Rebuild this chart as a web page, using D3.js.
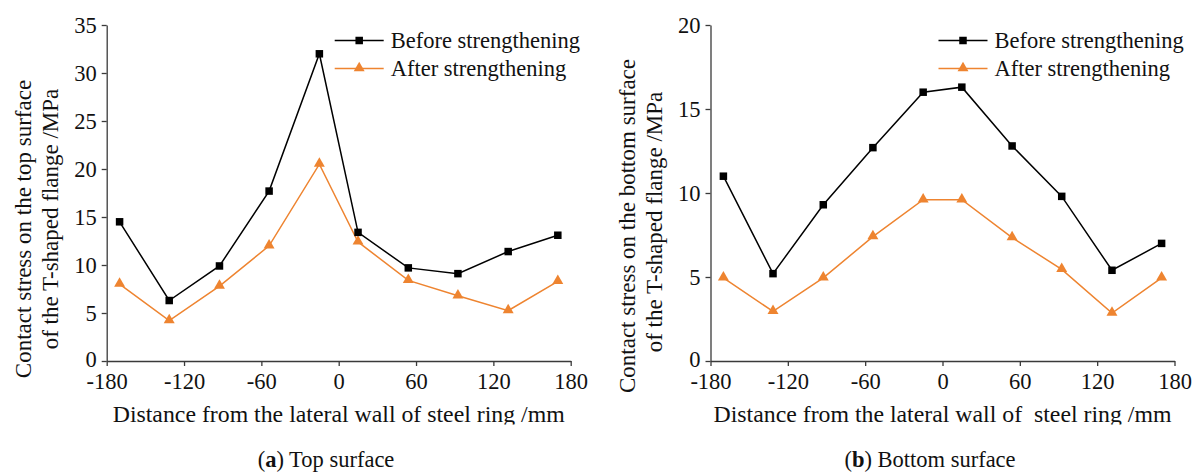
<!DOCTYPE html>
<html>
<head>
<meta charset="utf-8">
<script src="https://cdn.jsdelivr.net/npm/d3@7"></script>
<style>
  body { margin: 0; background: #fff; }
  svg { display: block; }
  text { font-family: "Liberation Serif", "Times New Roman", serif; fill: #111; }
</style>
</head>
<body>
<svg id="chart" width="1198" height="475"></svg>
<script>
// distances from the lateral wall (mm), same for both panels
var distances = [-170, -131.5, -92.5, -54, -15, 15, 54, 92.5, 131.5, 170];

// (a) top surface, MPa
var topBefore = [14.5, 6.3, 9.9, 17.7, 32.0, 13.4, 9.7, 9.1, 11.4, 13.1];
var topAfter  = [8.0, 4.2, 7.8, 12.0, 20.5, 12.4, 8.4, 6.8, 5.25, 8.3];

// (b) bottom surface, MPa
var bottomBefore = [11.0, 5.2, 9.3, 12.7, 16.0, 16.3, 12.8, 9.8, 5.4, 7.0];
var bottomAfter  = [4.95, 2.95, 4.95, 7.4, 9.6, 9.6, 7.35, 5.45, 2.85, 4.95];

var xTicks = [-180, -120, -60, 0, 60, 120, 180];
var topYTicks = [0, 5, 10, 15, 20, 25, 30, 35];
var bottomYTicks = [0, 5, 10, 15, 20];
var seriesNames = ["Before strengthening", "After strengthening"];

var BLACK = "#000", ORANGE = "#EE8430", AXIS = "#3a3a3a";

var svg = d3.select("#chart");

function panel(opts) {
  var g = svg.append("g").attr("transform", "translate(" + opts.left + ",0)");
  var width = 464, top = 25, bottom = 361;

  var x = d3.scaleLinear().domain([-180, 180]).range([0, width]);
  var y = d3.scaleLinear().domain([0, opts.yMax]).range([bottom, top]);
  var plain = function(d) { return String(d); }; // hyphen, not unicode minus

  // axes
  var xa = g.append("g")
      .attr("transform", "translate(0," + bottom + ")")
      .call(d3.axisBottom(x).tickValues(xTicks).tickFormat(plain)
        .tickSize(5).tickSizeOuter(0).tickPadding(7));
  var ya = g.append("g")
      .call(d3.axisLeft(y).tickValues(opts.yTicks).tickFormat(plain)
        .tickSize(5).tickSizeOuter(0).tickPadding(5));
  [xa, ya].forEach(function(a) {
    a.attr("font-family", null).attr("font-size", null);
    a.select(".domain").attr("stroke", AXIS).attr("stroke-width", 1.3);
    a.selectAll(".tick line").attr("stroke", AXIS).attr("stroke-width", 1.3);
    a.selectAll(".tick text").style("font-size", "22.5px").attr("fill", "#111");
  });
  // lift the y "0" a touch so it clears the x "-180"
  ya.selectAll(".tick text").filter(function(d) { return d === 0; }).attr("dy", "0.25em");

  // lines + markers
  var line = d3.line()
      .x(function(d, i) { return x(distances[i]); })
      .y(function(d) { return y(d); });

  g.append("path").datum(opts.before)
      .attr("fill", "none").attr("stroke", BLACK).attr("stroke-width", 1.5)
      .attr("d", line);
  g.append("path").datum(opts.after)
      .attr("fill", "none").attr("stroke", ORANGE).attr("stroke-width", 1.5)
      .attr("d", line);

  var tri = d3.symbol().type(d3.symbolTriangle).size(52);

  g.selectAll(".after-pt").data(opts.after).enter().append("path")
      .attr("class", "after-pt")
      .attr("d", tri)
      .attr("fill", ORANGE)
      .attr("transform", function(d, i) { return "translate(" + x(distances[i]) + "," + (y(d) - 0.5) + ")"; });

  g.selectAll(".before-pt").data(opts.before).enter().append("rect")
      .attr("class", "before-pt")
      .attr("x", function(d, i) { return x(distances[i]) - 3.75; })
      .attr("y", function(d) { return y(d) - 3.75; })
      .attr("width", 7.5).attr("height", 7.5)
      .attr("fill", BLACK);

  // legend
  var leg = g.append("g").attr("transform", "translate(228,0)");
  var rows = [{ c: BLACK, y: 40.5, name: seriesNames[0] }, { c: ORANGE, y: 68.5, name: seriesNames[1] }];
  rows.forEach(function(r, i) {
    leg.append("line").attr("x1", 0).attr("x2", 49).attr("y1", r.y).attr("y2", r.y)
        .attr("stroke", r.c).attr("stroke-width", 1.5);
    if (i === 0) {
      leg.append("rect").attr("x", 20.75).attr("y", r.y - 3.75).attr("width", 7.5).attr("height", 7.5).attr("fill", r.c);
    } else {
      leg.append("path").attr("d", tri).attr("fill", r.c)
          .attr("transform", "translate(24.5," + (r.y - 0.5) + ")");
    }
    leg.append("text").attr("x", 56).attr("y", r.y + 7.5)
        .style("font-size", "22.5px").text(r.name);
  });

  // x title (bottom of the descenders is cut off in the original crop)
  var clipId = "clip" + Math.round(opts.left);
  svg.append("clipPath").attr("id", clipId)
    .append("rect").attr("x", -200).attr("y", 0).attr("width", 1000).attr("height", 424.5);
  g.append("text")
      .attr("clip-path", "url(#" + clipId + ")")
      .attr("x", width / 2).attr("y", 421.5)
      .attr("text-anchor", "middle")
      .style("font-size", "23.8px").style("white-space", "pre")
      .text(opts.xTitle);

  // y title, two lines
  opts.yTitle.forEach(function(t, i) {
    g.append("text")
        .attr("transform", "translate(" + (opts.titleX[i] - opts.left) + "," + opts.titleY[i] + ") rotate(-90)")
        .attr("text-anchor", "middle")
        .style("font-size", "23px")
        .text(t);
  });

  // caption
  var cap = svg.append("text")
      .attr("x", opts.capX).attr("y", 467)
      .attr("text-anchor", "middle")
      .style("font-size", "22.5px");
  cap.append("tspan").text("(");
  cap.append("tspan").style("font-weight", "bold").text(opts.capLetter);
  cap.append("tspan").text(") " + opts.capText);
}

panel({
  left: 106.7, yMax: 35, yTicks: topYTicks,
  before: topBefore, after: topAfter,
  xTitle: "Distance from the lateral wall of steel ring /mm",
  yTitle: ["Contact stress on the top surface", "of the T-shaped flange /MPa"],
  titleX: [31, 58], titleY: [229, 219],
  capX: 326, capLetter: "a", capText: "Top surface"
});

panel({
  left: 710.5, yMax: 20, yTicks: bottomYTicks,
  before: bottomBefore, after: bottomAfter,
  xTitle: "Distance from the lateral wall of  steel ring /mm",
  yTitle: ["Contact stress on the bottom surface", "of the T-shaped flange /MPa"],
  titleX: [635, 662], titleY: [226, 222],
  capX: 930, capLetter: "b", capText: "Bottom surface"
});
</script>
</body>
</html>
